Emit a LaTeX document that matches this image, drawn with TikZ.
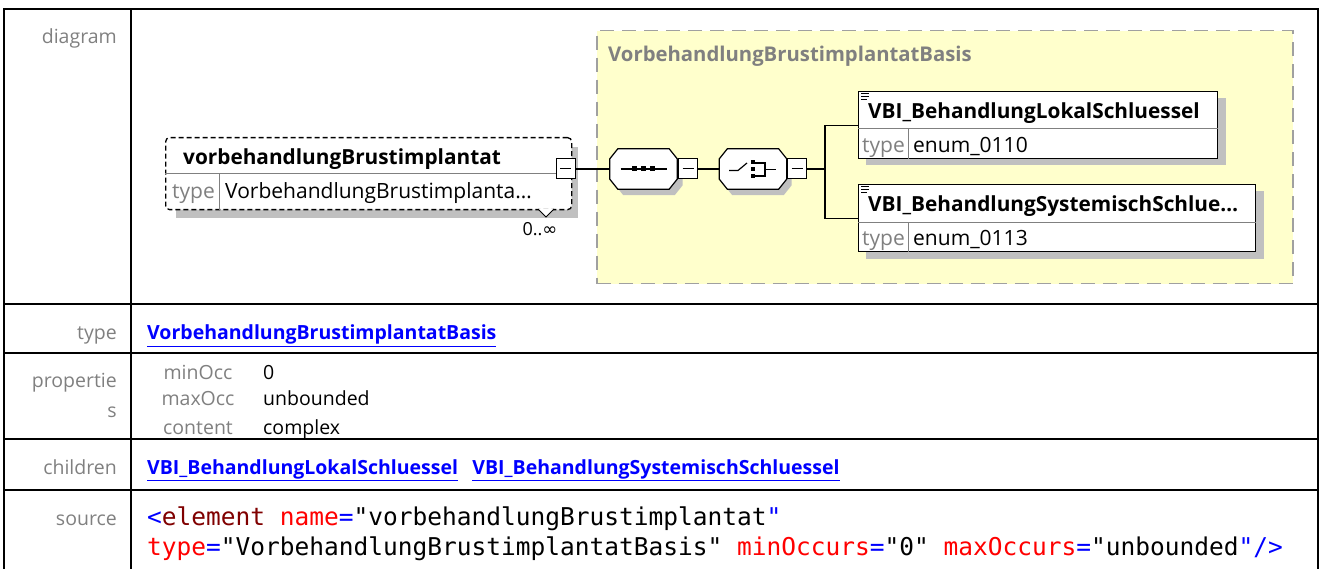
\documentclass[tikz,border=0pt]{standalone}
\usepackage{fontspec}
\setmainfont{Open Sans}
\setmonofont{DejaVu Sans Mono}
\newfontfamily\symfont{DejaVu Sans}
\usepackage{tikz}
\usetikzlibrary{positioning,calc}
\definecolor{gelb}{HTML}{FFFFCC}
\definecolor{rand}{HTML}{A0A0A0}
\definecolor{grauschatten}{HTML}{C0C0C0}
\definecolor{etikett}{HTML}{808080}
\definecolor{verweis}{HTML}{0000FF}
\definecolor{blau}{HTML}{0000FF}
\definecolor{tagrot}{HTML}{800000}
\definecolor{attrrot}{HTML}{FF0000}
\newcommand{\schrift}[1]{\fontsize{#1}{#1}\selectfont}

\begin{document}
\begin{tikzpicture}[x=1pt, y=-1pt, font=\schrift{19.5},
    lbl/.style={anchor=base east, inner sep=0pt, text=etikett},
    txt/.style={anchor=base west, inner sep=0pt},
    dtxt/.style={txt, font=\schrift{21}},
    dname/.style={txt, font=\schrift{20.8}\bfseries},
    lnk/.style={anchor=base west, inner sep=0pt, text=verweis, font=\schrift{19.5}\bfseries},
    code/.style={anchor=base west, inner sep=0pt, font=\schrift{24.5}\ttfamily},
    kasten/.style={draw, fill=white, line width=1.3pt, anchor=north west, inner sep=0pt},
    trenn/.style={draw=etikett, line width=1pt},
    knopf/.style={draw, fill=white, line width=1pt, minimum width=19pt, minimum height=20pt, inner sep=0pt,
      path picture={\draw[line width=1pt] ([xshift=4pt]path picture bounding box.west) -- ([xshift=-4pt]path picture bounding box.east);}},
    oktbox/.style={minimum width=67pt, minimum height=40pt, inner sep=0pt},
    okt/.style={insert path={([xshift=8pt]#1.north west) -- ([xshift=-8pt]#1.north east)
      -- ([yshift=-10pt]#1.north east) -- ([yshift=10pt]#1.south east) -- ([xshift=-8pt]#1.south east)
      -- ([xshift=8pt]#1.south west) -- ([yshift=10pt]#1.south west) -- ([yshift=-10pt]#1.north west) -- cycle}},
    linie/.style={line width=1.2pt}]

  \useasboundingbox (0,0) rectangle (1320,569);

  % Tabelle
  \draw[line width=2.5pt] (4,569) -- (4,9) -- (1318,9) -- (1318,569);
  \draw[line width=2.5pt] (131,9) -- (131,569);
  \foreach \y in {304,353,439,490}
    \draw[line width=2.5pt] (4,\y) -- (1318,\y);

  \node[lbl] (l-diag) at (117,44) {diagram};
  \node[lbl] (l-typ) at (117,340) {type};
  \node[lbl] (l-prop) at (117,387) {propertie};
  \node[lbl] (l-s) at (117,417) {s};
  \node[lbl] (l-kind) at (117,474) {children};
  \node[lbl] (l-quelle) at (117,525) {source};

  % complexType
  \node[draw=rand, fill=gelb, line width=1.5pt, dash pattern=on 14pt off 8pt, anchor=north west,
        minimum width=696pt, minimum height=253pt, inner sep=0pt] (basis) at (596,30) {};
  \node[txt, text=etikett, font=\schrift{20.3}\bfseries] (basis-t) at (608,62) {VorbehandlungBrustimplantatBasis};

  % Element
  \fill[grauschatten] (176,147) rectangle (578,218);
  \node[kasten, dash pattern=on 5pt off 3pt, rounded corners=4pt, minimum width=406pt, minimum height=72pt] (haupt) at (165,137) {};
  \draw[trenn] ([yshift=-37pt]haupt.north west) -- ([yshift=-37pt]haupt.north east);
  \draw[trenn] ([xshift=54pt,yshift=-37pt]haupt.north west) -- ([xshift=54pt]haupt.south west);
  \draw[fill=white, line width=1pt] (538,209) -- (546,217) -- (554,209);
  \node[dname] (haupt-n) at (183,165) {vorbehandlungBrustimplantat};
  \node[dtxt, text=etikett] (haupt-t) at (172,199) {type};
  \node[dtxt] (haupt-w) at (225,199) {VorbehandlungBrustimplanta…};
  \node[knopf] (haupt-m) at (565.5,169) {};
  \node[anchor=base, inner sep=0pt, font=\schrift{18}] (haupt-o) at (540,236) {0..{\symfont ∞}};

  % Sequenz und Auswahl
  \node[oktbox] (seq-s) at (649,175) {};
  \fill[grauschatten, okt=seq-s];
  \node[oktbox] (seq) at (643.5,169) {};
  \draw[fill=white, line width=1.2pt, okt=seq];
  \node[knopf] (seq-m) at (688,169) {};
  \draw[linie] ($(seq)+(-23,0)$) -- ($(seq)+(23,0)$);
  \foreach \x in {-9,0,9}
    \fill ($(seq)+(\x-2.5,-2.5)$) rectangle +(5,5);

  \node[oktbox] (wahl-s) at (758,175) {};
  \fill[grauschatten, okt=wahl-s];
  \node[oktbox] (wahl) at (753,169) {};
  \draw[fill=white, line width=1.2pt, okt=wahl];
  \node[knopf] (wahl-m) at (797,169) {};
  \draw[linie] ($(wahl)+(-24,1.5)$) -- ($(wahl)+(-15,1.5)$) -- ($(wahl)+(-6,-6)$);
  \foreach \y in {-7,0,7}
    \fill ($(wahl)+(-2,\y-2)$) rectangle +(4,4);
  \draw[linie] ($(wahl)+(0,-6)$) -- ($(wahl)+(12,-6)$) -- ($(wahl)+(12,7)$) -- ($(wahl)+(0,7)$);
  \draw[linie] ($(wahl)+(12,0.5)$) -- ($(wahl)+(23,0.5)$);

  % Kinder
  \fill[grauschatten] (866,98) rectangle (1226,165);
  \node[kasten, minimum width=359pt, minimum height=67pt] (k1) at (858,91) {};
  \draw[trenn] ([yshift=-38pt]k1.north west) -- ([yshift=-38pt]k1.north east);
  \draw[trenn] ([xshift=50pt,yshift=-38pt]k1.north west) -- ([xshift=50pt]k1.south west);
  \foreach \y/\l in {3/8,6/8,9/6}
    \draw[line width=1pt] ([xshift=3pt,yshift=-\y pt]k1.north west) -- ++(\l,0);
  \node[dname] (k1-n) at (868,119) {VBI\_BehandlungLokalSchluessel};
  \node[dtxt, text=etikett] (k1-t) at (862,153) {type};
  \node[dtxt] (k1-w) at (913,153) {enum\_0110};

  \fill[grauschatten] (866,191) rectangle (1264,259);
  \node[kasten, minimum width=397pt, minimum height=67pt] (k2) at (858,184) {};
  \draw[trenn] ([yshift=-39pt]k2.north west) -- ([yshift=-39pt]k2.north east);
  \draw[trenn] ([xshift=50pt,yshift=-39pt]k2.north west) -- ([xshift=50pt]k2.south west);
  \foreach \y/\l in {3/8,6/8,9/6}
    \draw[line width=1pt] ([xshift=3pt,yshift=-\y pt]k2.north west) -- ++(\l,0);
  \node[dname] (k2-n) at (868,212) {VBI\_BehandlungSystemischSchlue…};
  \node[dtxt, text=etikett] (k2-t) at (862,246) {type};
  \node[dtxt] (k2-w) at (913,246) {enum\_0113};

  % Verbindungen
  \coordinate (gabel) at (825,169);
  \draw[linie] (haupt-m) -- (seq);
  \draw[linie] (seq-m) -- (wahl);
  \draw[linie] (wahl-m) -- (gabel);
  \draw[linie] (gabel) |- (k1);
  \draw[linie] (gabel) |- (k2);

  % Zeilen
  \node[lnk] (typ-v) at (147,340) {\underline{VorbehandlungBrustimplantatBasis}};

  \node[anchor=base, inner sep=0pt, text=etikett] (p1) at (198,379) {minOcc};
  \node[anchor=base, inner sep=0pt, text=etikett] (p2) at (198,405) {maxOcc};
  \node[anchor=base, inner sep=0pt, text=etikett] (p3) at (198,434) {content};
  \node[txt] (p1-w) at (263,379) {0};
  \node[txt] (p2-w) at (263,405) {unbounded};
  \node[txt] (p3-w) at (263,434) {complex};

  \node[lnk] (kind1) at (147,474) {\underline{VBI\_BehandlungLokalSchluessel}};
  \node[lnk, right=14pt of kind1] (kind2) {\underline{VBI\_BehandlungSystemischSchluessel}};

  \node[code] (src1) at (147,525) {\textcolor{blau}{<}\textcolor{tagrot}{element} \textcolor{attrrot}{name}\textcolor{blau}{=}"vorbehandlungBrustimplantat\textcolor{blau}{"}};
  \node[code] (src2) at (147,555) {\textcolor{attrrot}{type}\textcolor{blau}{=}"VorbehandlungBrustimplantatBasis" \textcolor{attrrot}{minOccurs}\textcolor{blau}{=}"0" \textcolor{attrrot}{maxOccurs}\textcolor{blau}{=}"unbounded\textcolor{blau}{"/>}};
\end{tikzpicture}
\end{document}
